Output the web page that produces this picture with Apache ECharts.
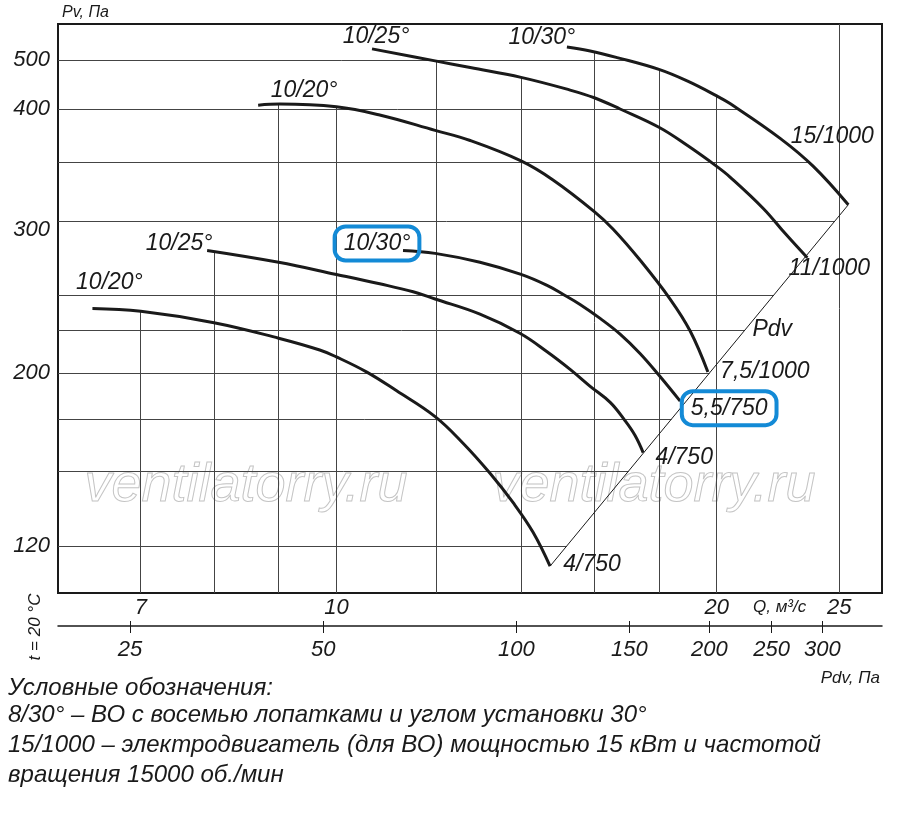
<!DOCTYPE html>
<html>
<head>
<meta charset="utf-8">
<title>Pv(Q)</title>
<script src="https://cdn.jsdelivr.net/npm/echarts@6/dist/echarts.min.js"></script>
<style>
  html, body { margin: 0; background: #fff; }
  #chart { width: 900px; height: 815px; }
</style>
</head>
<body>
<div id="chart"></div>
<script>
// ---- values: Q in m3/s, Pv and Pdv in Pa ----
const qTicks = [7, 10, 20, 25];
const qGrid = [7, 8, 9, 10, 12, 14, 16, 18, 20, 25];
const pvTicks = [120, 200, 300, 400, 500];
const pvGrid = [120, 150, 180, 200, 225, 250, 300, 350, 400, 500];
const pdvTicks = [25, 50, 100, 150, 200, 250, 300];

// 750 rpm curves
const c750_20 = [[6.41,240],[7,238],[8,230],[9,220],[9.7,213],[10,209],[10.57,200.5],[11.16,192],[11.97,181],[12.59,165.5],[13.23,149],[13.8,136.5],[14.31,125],[14.76,113]];
const c750_25 = [[7.9,279],[9,271],[10,263],[10.82,257],[11.5,252],[11.97,247],[12.99,236],[13.97,223],[14.68,212],[15.31,202],[15.88,194],[16.47,187],[16.92,179],[17.23,170],[17.49,160]];
const c750_30 = [[11.29,279],[11.97,277],[12.99,271],[14,263],[14.68,256],[15.11,250.5],[15.59,243],[16.17,233],[16.77,222.5],[17.39,211],[18.03,198.5],[18.71,187.5]];
// 1000 rpm curves
const c1000_20 = [[8.67,407],[9.02,409],[10,404],[10.82,394],[11.97,379],[12.76,369.5],[14,351],[14.84,334],[16,307.5],[16.56,294],[17.39,272.5],[18.37,247],[19.05,224.5],[19.68,200.5]];
const c1000_25 = [[10.67,526],[11.97,498],[12.76,483],[14,462],[15.31,436],[16,421],[16.77,400],[18,382],[18.95,365],[20,346],[20.49,336.5],[21.77,310],[22.65,291],[23.59,274]];
const c1000_30 = [[15.22,530.5],[15.88,521],[16.68,505.5],[18,479],[18.95,454.5],[20,424.5],[20.49,410],[22.45,371.5],[23.85,346],[25.42,313]];

const bladeNames = ['10/20°', '10/25°', '10/30°', '10/20°', '10/25°', '10/30°'];
const motorNames = ['4/750', '4/750', '5,5/750', '7,5/1000', '11/1000', '15/1000'];

const notes = [
  'Условные обозначения:',
  '8/30° – ВО с восемью лопатками и углом установки 30°',
  '15/1000 – электродвигатель (для ВО) мощностью 15 кВт и частотой',
  'вращения 15000 об./мин'
];

// ---- scales ----
// the printed Pv axis is not a clean log scale: stops of the scale (axis units from the bottom)
const pvScaleStops = [47, 122, 174, 220, 263, 298, 372, 431, 484, 533];
const pvAxisMax = 569;
const qRange = [6.02, 27.03];      // Q at the left / right frame
const pdvRange = [19.3, 371.5];    // Pdv at the left / right frame

const pvLogs = pvGrid.map(Math.log10);
function pvToUnit(pv) {
  const L = Math.log10(pv);
  let i = 0;
  while (i < pvLogs.length - 2 && L > pvLogs[i + 1]) i++;
  return pvScaleStops[i] + (L - pvLogs[i]) / (pvLogs[i + 1] - pvLogs[i]) * (pvScaleStops[i + 1] - pvScaleStops[i]);
}
const toXY = ([q, pv]) => [Math.log10(q), pvToUnit(pv)];

const curvesRaw = [c750_20, c750_25, c750_30, c1000_20, c1000_25, c1000_30];
const curves = curvesRaw.map(c => c.map(toXY));
const xMin = Math.log10(qRange[0]), xMax = Math.log10(qRange[1]);

// Pdv guide line joins the end of the lowest and the highest curve
const pdvLine = [curves[0][curves[0].length - 1], curves[5][curves[5].length - 1]];

function curveAt(pts, x) {
  if (x < pts[0][0] || x > pts[pts.length - 1][0]) return null;
  for (let i = 1; i < pts.length; i++) {
    if (x <= pts[i][0]) {
      const [x0, y0] = pts[i - 1], [x1, y1] = pts[i];
      return y0 + (x - x0) / (x1 - x0) * (y1 - y0);
    }
  }
  return null;
}
function envelope(x) {
  let best = -Infinity;
  curves.forEach(c => { const y = curveAt(c, x); if (y != null && y > best) best = y; });
  return best;
}

// grid is only drawn under the curves and left of the Pdv line
const gridSegs = [];
qGrid.forEach(q => {
  const x = Math.log10(q);
  let top = envelope(x);
  if (q === qGrid[qGrid.length - 1] || top === -Infinity) top = pvAxisMax;
  gridSegs.push({ coords: [[x, 0], [x, top]] });
});
pvGrid.forEach(pv => {
  const u = pvToUnit(pv);
  const [p0, p1] = pdvLine;
  let right;
  if (u >= p0[1] && u <= p1[1]) {
    right = p0[0] + (u - p0[1]) / (p1[1] - p0[1]) * (p1[0] - p0[0]);
  } else {
    right = xMax;
    for (let x = xMax; x > xMin; x -= 0.0005) {
      if (envelope(x) >= u) { right = x; break; }
    }
  }
  gridSegs.push({ coords: [[xMin, u], [right, u]] });
});

// ---- styling ----
const FONT = "'Liberation Sans', Arial, sans-serif";
const INK = '#1a1a1a';
const BLUE = '#138ad6';
const txt = (size) => ({ fontFamily: FONT, fontStyle: 'italic', fontSize: size, color: INK });

const startOffsets = [[17, -26], [-28, -7], [-26, -7], [46, -15], [4, -12], [-25, -9]];
const endOffsets = [[42, -2], [41, 5], [49, 7], [57, 0], [22, 11], [-16, -68]];
const boxed = { borderColor: BLUE, borderWidth: 4, borderRadius: 11, padding: [6, 9, 5, 9] };

const labelData = [];
curves.forEach((c, i) => {
  labelData.push({
    name: bladeNames[i], value: c[0],
    label: Object.assign({ offset: startOffsets[i] }, i === 2 ? boxed : {})
  });
  labelData.push({
    name: motorNames[i], value: c[c.length - 1],
    label: Object.assign({ offset: endOffsets[i] }, i === 2 ? boxed : {})
  });
});
labelData.push({ name: 'Pdv', value: pdvLine[1], label: { offset: [-76, 125] } });

const u300 = pvToUnit(300);

const chart = echarts.init(document.getElementById('chart'));
chart.setOption({
  animation: false,
  backgroundColor: '#fff',
  grid: { left: 58, right: 18, top: 24, bottom: 222, show: true, borderColor: INK, borderWidth: 2 },
  xAxis: [
    {
      type: 'value', min: xMin, max: xMax,
      axisLine: { show: false }, axisTick: { show: false }, splitLine: { show: false },
      axisLabel: Object.assign(txt(22), {
        margin: 4,
        customValues: qTicks.map(Math.log10),
        formatter: v => String(Math.round(10 ** v))
      })
    },
    {
      type: 'value', position: 'bottom', offset: 33,
      min: Math.log10(pdvRange[0]), max: Math.log10(pdvRange[1]),
      axisLine: { show: true, lineStyle: { color: INK, width: 1.5 } },
      axisTick: { show: true, length: 7, customValues: pdvTicks.map(Math.log10), lineStyle: { color: INK, width: 1 } },
      splitLine: { show: false },
      axisLabel: Object.assign(txt(22), {
        margin: 13,
        customValues: pdvTicks.map(Math.log10),
        formatter: v => String(Math.round(10 ** v))
      })
    },
    {
      type: 'value', position: 'bottom', offset: 33,
      min: Math.log10(pdvRange[0]), max: Math.log10(pdvRange[1]),
      axisLine: { show: false },
      axisTick: { show: true, inside: true, length: 5, customValues: pdvTicks.map(Math.log10), lineStyle: { color: INK, width: 1 } },
      splitLine: { show: false },
      axisLabel: { show: false }
    }
  ],
  yAxis: {
    type: 'value', min: 0, max: pvAxisMax,
    axisLine: { show: false }, axisTick: { show: false }, splitLine: { show: false },
    axisLabel: Object.assign(txt(22), {
      margin: 8,
      customValues: pvTicks.map(pvToUnit),
      formatter: v => {
        const t = pvTicks.find(p => Math.abs(pvToUnit(p) - v) < 1e-6);
        return Math.abs(v - u300) < 1e-6 ? '{dn|' + t + '}' : String(t);
      },
      rich: { dn: Object.assign(txt(22), { padding: [18, 0, 0, 0] }) }
    })
  },
  graphic: [
    { type: 'text', x: 246, y: 486, z: 1, style: { text: 'ventilatorry.ru', fill: 'none', stroke: '#c4c4c4', lineWidth: 1, fontFamily: FONT, fontStyle: 'italic', fontSize: 54, align: 'center', verticalAlign: 'middle' } },
    { type: 'text', x: 654, y: 486, z: 1, style: { text: 'ventilatorry.ru', fill: 'none', stroke: '#c4c4c4', lineWidth: 1, fontFamily: FONT, fontStyle: 'italic', fontSize: 54, align: 'center', verticalAlign: 'middle' } },
    { type: 'text', x: 62, y: 13, style: { text: 'Pv, Па', fill: INK, fontFamily: FONT, fontStyle: 'italic', fontSize: 16, verticalAlign: 'middle' } },
    { type: 'text', x: 753, y: 607, style: { text: 'Q, м³/с', fill: INK, fontFamily: FONT, fontStyle: 'italic', fontSize: 17, verticalAlign: 'middle' } },
    { type: 'text', x: 880, y: 678, style: { text: 'Pdv, Па', fill: INK, fontFamily: FONT, fontStyle: 'italic', fontSize: 17, align: 'right', verticalAlign: 'middle' } },
    { type: 'text', x: 35, y: 627, rotation: Math.PI / 2, style: { text: 't = 20 °C', fill: INK, fontFamily: FONT, fontStyle: 'italic', fontSize: 17, align: 'center', verticalAlign: 'middle' } }
  ].concat(notes.map((t, i) => ({
    type: 'text', x: 8, y: [688, 715, 745, 775][i],
    style: { text: t, fill: INK, fontFamily: FONT, fontStyle: 'italic', fontSize: 24, verticalAlign: 'middle' }
  }))),
  series: [
    {
      type: 'lines', coordinateSystem: 'cartesian2d', silent: true, z: 1,
      lineStyle: { color: '#444', width: 1, opacity: 1 },
      data: gridSegs
    },
    {
      type: 'line', silent: true, z: 3, symbol: 'none',
      lineStyle: { color: INK, width: 1 },
      data: pdvLine
    }
  ].concat(curves.map(c => ({
    type: 'line', silent: true, z: 4, symbol: 'none', smooth: 0.4,
    lineStyle: { color: INK, width: 3 },
    data: c
  }))).concat([{
    type: 'scatter', silent: true, z: 5, symbolSize: 0,
    itemStyle: { color: INK, opacity: 1 },
    label: Object.assign(txt(23), {
      show: true, position: 'inside', formatter: '{b}', align: 'center', verticalAlign: 'middle',
      opacity: 1, textBorderWidth: 0
    }),
    data: labelData
  }])
});
</script>
</body>
</html>
